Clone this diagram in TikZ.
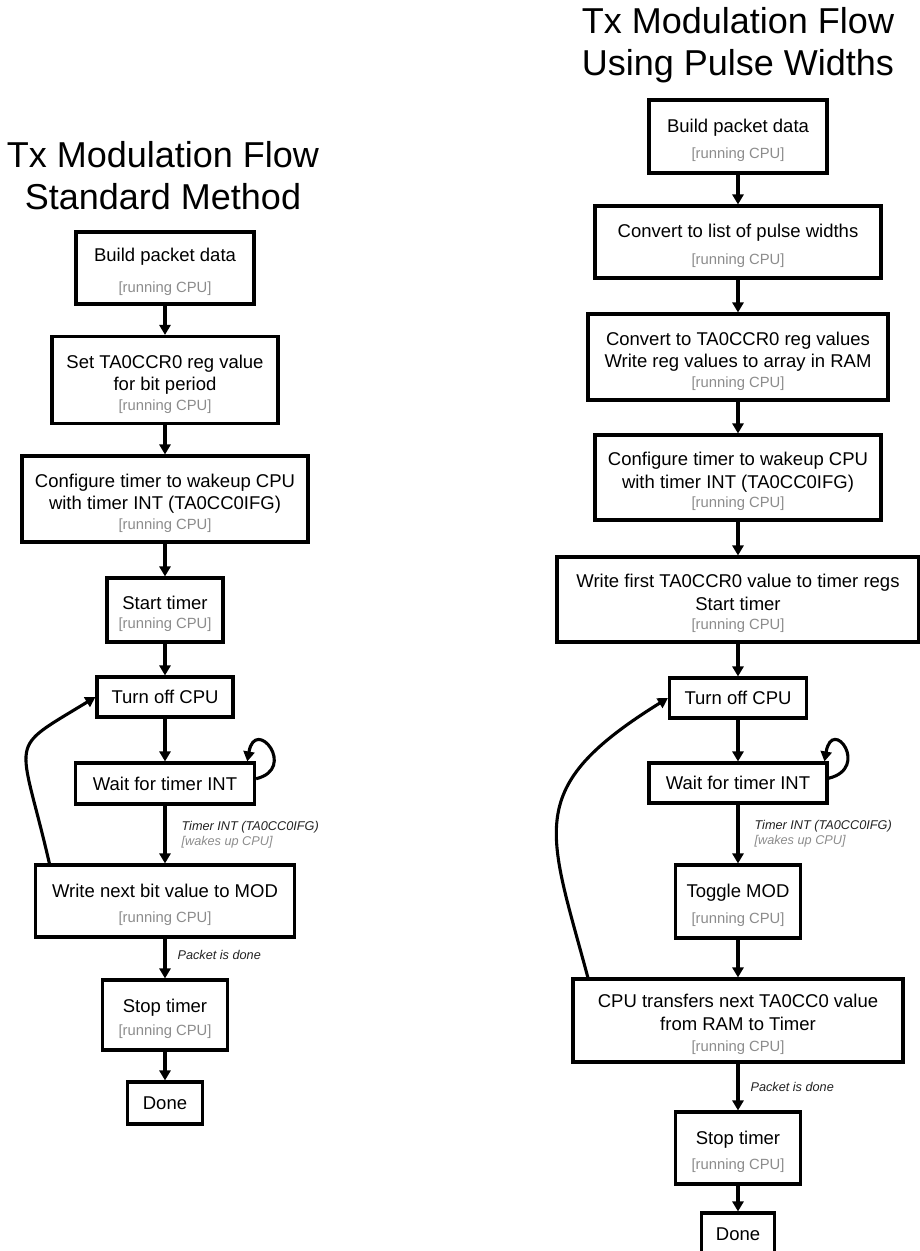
\documentclass[tikz,border=0pt]{standalone}
\usepackage{fontspec}
\setmainfont{Liberation Sans}
\usepackage{tikz}
\usetikzlibrary{
	arrows.meta,
	positioning,
	calc
}
\usepackage{xcolor}
\definecolor{cpugray}{HTML}{8C8C8C}
\definecolor{lblblack}{HTML}{222222}

\newcommand{\runcpu}{{\fontsize{14.8}{18}\selectfont\color{cpugray}[running CPU]}}
\newcommand{\boxstrut}{\rule{0pt}{21.5pt}}

\begin{document}
\begin{tikzpicture}[x=1pt, y=-1pt,
	flowbox/.style={draw, line width=3.1pt, align=center, inner sep=0pt, font=\fontsize{18.5}{22.5}\selectfont},
	flow/.style={line width=3.1pt, -{Triangle[length=10pt,width=11pt]}},
	titletext/.style={align=center, font=\fontsize{36}{42}\selectfont},
	edgelabel/.style={align=left, inner sep=0pt, font=\fontsize{12.7}{15}\selectfont\itshape, text=lblblack}
	]
	
	\useasboundingbox (0,0) rectangle (920,1251);
	
	% Titles
	\node[titletext] (titleL) at (163,176) {Tx Modulation Flow\\Standard Method};
	\node[titletext] (titleR) at (738,45) {Tx Modulation Flow\\Using Pulse Widths};
	
	% Standard method
	\node[flowbox, minimum width=178, minimum height=72] (L1) at (165,268) {\boxstrut Build packet data\\[9pt]\runcpu};
	\node[flowbox, minimum width=226, minimum height=87] (L2) at (165,380) {\boxstrut Set TA0CCR0 reg value\\for bit period\\[-3pt]\runcpu};
	\node[flowbox, minimum width=286, minimum height=86] (L3) at (165,499) {\boxstrut Configure timer to wakeup CPU\\with timer INT (TA0CC0IFG)\\[-3pt]\runcpu};
	\node[flowbox, minimum width=116, minimum height=64] (L4) at (165,610) {\boxstrut Start timer\\[-3pt]\runcpu};
	\node[flowbox, minimum width=136, minimum height=40] (L5) at (165,697) {Turn off CPU};
	\node[flowbox, minimum width=179, minimum height=41] (L6) at (165,783.5) {Wait for timer INT};
	\node[flowbox, minimum width=259, minimum height=72] (L7) at (165,901) {\boxstrut Write next bit value to MOD\\[2pt]\runcpu};
	\node[flowbox, minimum width=125, minimum height=70] (L8) at (165,1015) {\boxstrut Stop timer\\[1pt]\runcpu};
	\node[flowbox, minimum width=75, minimum height=42] (L9) at (165,1103) {Done};
	
	\draw[flow] (L1) -- (L2);
	\draw[flow] (L2) -- (L3);
	\draw[flow] (L3) -- (L4);
	\draw[flow] (L4) -- (L5);
	\draw[flow] (L5) -- (L6);
	\draw[flow] (L6) -- (L7)
	node[edgelabel, midway, right=15pt] {Timer INT (TA0CC0IFG)\\{\color{cpugray}[wakes up CPU]}};
	\draw[flow] (L7) -- (L8)
	node[edgelabel, pos=0.4, right=11pt] {Packet is done};
	\draw[flow] (L8) -- (L9);
	
	% Loops
	\draw[flow] (L6.3) .. controls +(42,-10) and +(8,-46) .. (L6.15);
	\draw[flow] (L7.162) .. controls +(-30,-130) and +(-90,55) .. (L5.west);
	
	% Pulse width method
	\node[flowbox, minimum width=178, minimum height=73] (R1) at (738,136.5) {\boxstrut Build packet data\\[4pt]\runcpu};
	\node[flowbox, minimum width=286, minimum height=72] (R2) at (738,242) {\boxstrut Convert to list of pulse widths\\[4pt]\runcpu};
	\node[flowbox, minimum width=300, minimum height=86] (R3) at (738,357) {\boxstrut Convert to TA0CCR0 reg values\\Write reg values to array in RAM\\[-3pt]\runcpu};
	\node[flowbox, minimum width=286, minimum height=85] (R4) at (738,477.5) {\boxstrut Configure timer to wakeup CPU\\with timer INT (TA0CC0IFG)\\[-3pt]\runcpu};
	\node[flowbox, minimum width=362, minimum height=85] (R5) at (738,599.5) {\boxstrut Write first TA0CCR0 value to timer regs\\Start timer\\[-3pt]\runcpu};
	\node[flowbox, minimum width=137, minimum height=40] (R6) at (738,698) {Turn off CPU};
	\node[flowbox, minimum width=178, minimum height=40] (R7) at (738,783) {Wait for timer INT};
	\node[flowbox, minimum width=125, minimum height=73] (R8) at (738,901.5) {\boxstrut Toggle MOD\\[3pt]\runcpu};
	\node[flowbox, minimum width=330, minimum height=83] (R9) at (738,1020.5) {\boxstrut CPU transfers next TA0CC0 value\\from RAM to Timer\\[-1pt]\runcpu};
	\node[flowbox, minimum width=125, minimum height=72] (R10) at (738,1148) {\boxstrut Stop timer\\[3pt]\runcpu};
	\node[flowbox, minimum width=73, minimum height=42] (R11) at (738,1234) {Done};
	
	\draw[flow] (R1) -- (R2);
	\draw[flow] (R2) -- (R3);
	\draw[flow] (R3) -- (R4);
	\draw[flow] (R4) -- (R5);
	\draw[flow] (R5) -- (R6);
	\draw[flow] (R6) -- (R7);
	\draw[flow] (R7) -- (R8)
	node[edgelabel, midway, right=15pt] {Timer INT (TA0CC0IFG)\\{\color{cpugray}[wakes up CPU]}};
	\draw[flow] (R8) -- (R9);
	\draw[flow] (R9) -- (R10)
	node[edgelabel, midway, right=11pt] {Packet is done};
	\draw[flow] (R10) -- (R11);
	
	% Loops
	\draw[flow] (R7.3) .. controls +(42,-10) and +(8,-46) .. (R7.14);
	\draw[flow] (R9.164) .. controls +(-40,-149) and +(-145,90) .. (R6.west);
	
\end{tikzpicture}
\end{document}
